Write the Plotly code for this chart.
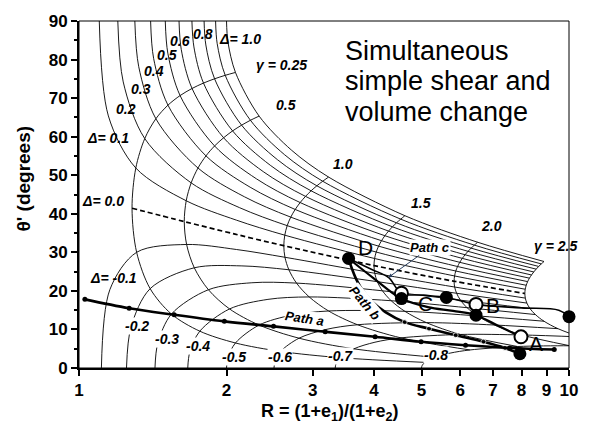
import math
import plotly.graph_objects as go

# ---------------- data ----------------
# volume-change values of the thin curves (columns of the tables below)
DELTAS = [-0.8, -0.7, -0.6, -0.5, -0.4, -0.3, -0.2, -0.1, 0.0,
          0.1, 0.2, 0.3, 0.4, 0.5, 0.6, 0.7, 0.8, 0.9, 1.0]
# shear values at which the curves were sampled (rows)
GAMMAS = [0, 0.1, 0.25, 0.5, 0.75, 1.0, 1.5, 2.0, 2.5]
GAMMA_DRAWN = [0.25, 0.5, 1.0, 1.5, 2.0, 2.5]

R_g000 = [5.0, 3.333, 2.5, 2.0, 1.667, 1.429, 1.25, 1.111, None, 1.1, 1.2, 1.3, 1.4, 1.5, 1.6, 1.7, 1.8, 1.9, 2.0]
T_g000 = [0, 0, 0, 0, 0, 0, 0, 0, None, 90, 90, 90, 90, 90, 90, 90, 90, 90, 90]
R_g010 = [5.013, 3.346, 2.513, 2.014, 1.683, 1.448, 1.277, 1.156, None, 1.148, 1.231, 1.324, 1.420, 1.518, 1.617, 1.716, 1.815, 1.914, 2.014]
T_g010 = [0.59, 1.09, 1.78, 2.73, 4.14, 6.41, 10.65, 20.32, None, 65.38, 74.20, 78.15, 80.31, 81.66, 82.59, 83.27, 83.78, 84.19, 84.52]
R_g025 = [5.080, 3.411, 2.579, 2.086, 1.764, 1.544, 1.397, 1.311, 1.283, 1.306, 1.362, 1.435, 1.519, 1.608, 1.701, 1.795, 1.891, 1.988, 2.086]
T_g025 = [1.46, 2.68, 4.30, 6.49, 9.55, 13.99, 20.58, 30.01, 41.44, 51.87, 59.50, 64.65, 68.17, 70.66, 72.50, 73.90, 75.01, 75.91, 76.66]
R_g050 = [5.321, 3.640, 2.812, 2.331, 2.029, 1.837, 1.719, 1.658, 1.640, 1.655, 1.694, 1.749, 1.816, 1.891, 1.973, 2.058, 2.147, 2.238, 2.331]
T_g050 = [2.78, 4.97, 7.73, 11.14, 15.32, 20.30, 25.99, 32.04, 37.98, 43.38, 48.02, 51.87, 55.02, 57.59, 59.72, 61.49, 62.98, 64.25, 65.34]
R_g075 = [5.720, 4.018, 3.189, 2.717, 2.430, 2.253, 2.150, 2.097, 2.082, 2.095, 2.127, 2.175, 2.235, 2.303, 2.377, 2.457, 2.541, 2.628, 2.717]
T_g075 = [3.86, 6.69, 9.98, 13.71, 17.80, 22.11, 26.48, 30.73, 34.72, 38.35, 41.58, 44.42, 46.89, 49.05, 50.93, 52.58, 54.03, 55.31, 56.46]
R_g100 = [6.276, 4.540, 3.702, 3.231, 2.950, 2.779, 2.681, 2.632, 2.618, 2.630, 2.660, 2.705, 2.762, 2.827, 2.899, 2.976, 3.058, 3.143, 3.231]
T_g100 = [4.68, 7.81, 11.22, 14.79, 18.43, 22.02, 25.48, 28.72, 31.72, 34.45, 36.92, 39.13, 41.12, 42.91, 44.51, 45.96, 47.26, 48.44, 49.52]
R_g150 = [7.853, 6.002, 5.116, 4.625, 4.336, 4.162, 4.063, 4.014, 4.000, 4.011, 4.042, 4.087, 4.144, 4.210, 4.283, 4.362, 4.446, 4.534, 4.625]
T_g150 = [5.57, 8.70, 11.77, 14.70, 17.45, 20.02, 22.39, 24.57, 26.57, 28.40, 30.07, 31.61, 33.02, 34.31, 35.51, 36.62, 37.65, 38.61, 39.50]
R_g200 = [10.04, 8.016, 7.046, 6.509, 6.194, 6.005, 5.897, 5.843, 5.828, 5.841, 5.874, 5.923, 5.985, 6.057, 6.136, 6.222, 6.313, 6.410, 6.509]
T_g200 = [5.77, 8.57, 11.15, 13.50, 15.64, 17.59, 19.38, 21.00, 22.50, 23.87, 25.15, 26.32, 27.41, 28.43, 29.37, 30.26, 31.09, 31.87, 32.62]
R_g250 = [12.84, 10.58, 9.494, 8.892, 8.538, 8.325, 8.204, 8.144, 8.127, 8.141, 8.179, 8.233, 8.303, 8.384, 8.473, 8.570, 8.672, 8.780, 8.892]
T_g250 = [5.61, 8.05, 10.20, 12.13, 13.86, 15.42, 16.84, 18.13, 19.33, 20.43, 21.46, 22.41, 23.30, 24.13, 24.91, 25.64, 26.34, 27.00, 27.62]

# deformation paths
PATH_A_R = [1.028, 1.266, 1.564, 1.98, 2.495, 3.18, 4.02, 4.99, 6.15, 7.57, 9.33]
PATH_A_T = [17.8, 15.5, 13.8, 12.1, 10.8, 9.4, 8.1, 6.8, 5.9, 5.2, 4.8]
PATH_B_R = [3.55, 3.60, 3.68, 3.80, 3.98, 4.22, 4.62, 5.18, 5.87, 6.69, 7.40, 7.94]
PATH_B_T = [28.4, 26.0, 23.0, 20.0, 17.0, 14.5, 11.9, 10.2, 8.5, 6.8, 5.2, 3.7]
PATH_B_DOT = [0, 0, 0, 0, 0, 0, 5, 5, 5, 5, 5, 0]
PATH_C_R = [3.55, 3.95, 4.28, 4.55, 5.05, 5.62, 6.46, 8.0, 9.53, 10.0]
PATH_C_T = [28.4, 25.6, 23.5, 19.4, 18.9, 18.3, 16.5, 15.6, 15.0, 13.3]
PATH_D_R = [3.55, 4.0, 4.55, 5.15, 5.8, 6.46, 7.2, 7.98]
PATH_D_T = [28.4, 23.2, 18.0, 15.8, 14.8, 13.7, 10.8, 8.1]

FILLED_R = [3.55, 4.55, 5.62, 6.46, 10.0, 7.94]
FILLED_T = [28.4, 18.0, 18.3, 13.7, 13.3, 3.7]
OPEN_R = [4.55, 6.46, 7.98]
OPEN_T = [19.4, 16.5, 8.1]

# curve labels
DLAB_TEXT = ["Δ= 1.0", "0.8", "0.6", "0.5", "0.4", "0.3", "0.2", "Δ= 0.1", "Δ= 0.0",
             "Δ= -0.1", "-0.2", "-0.3", "-0.4", "-0.5", "-0.6", "-0.7", "-0.8"]
DLAB_R = [2.135, 1.791, 1.608, 1.512, 1.421, 1.336, 1.250, 1.145, 1.12,
          1.178, 1.315, 1.512, 1.750, 2.073, 2.572, 3.42, 5.34]
DLAB_T = [85.3, 86.7, 84.7, 81.1, 77.0, 72.4, 67.2, 59.6, 43.3,
          23.4, 10.8, 7.4, 5.7, 2.9, 2.8, 3.1, 3.35]
GLAB_TEXT = ["γ = 0.25", "0.5", "1.0", "1.5", "2.0", "γ = 2.5"]
GLAB_R = [2.59, 2.64, 3.45, 4.99, 6.95, 9.4]
GLAB_T = [78.6, 68.3, 52.9, 42.9, 36.9, 31.7]
PT_TEXT = ["D", "C", "B", "A"]
PT_R = [3.84, 5.10, 7.01, 8.55]
PT_T = [31.3, 16.7, 16.2, 6.4]
TITLE_LINES = ["Simultaneous", "simple shear and", "volume change"]
X_TICKS = [1, 2, 3, 4, 5, 6, 7, 8, 9, 10]
Y_TICKS = [0, 10, 20, 30, 40, 50, 60, 70, 80, 90]

# ---------------- figure ----------------
FONT = "Liberation Sans, Arial, sans-serif"
R_rows = [R_g000, R_g010, R_g025, R_g050, R_g075, R_g100, R_g150, R_g200, R_g250]
T_rows = [T_g000, T_g010, T_g025, T_g050, T_g075, T_g100, T_g150, T_g200, T_g250]

fig = go.Figure()
thin = dict(color="black", width=0.9, shape="spline", smoothing=0.9)

for j, dv in enumerate(DELTAS):
    xs = [row[j] for row in R_rows]
    ys = [row[j] for row in T_rows]
    if dv == 0.0:
        ln = dict(color="black", width=1.7, dash="5px,3px", shape="spline", smoothing=0.9)
    else:
        ln = thin
    fig.add_trace(go.Scatter(x=xs, y=ys, mode="lines", line=ln,
                             hoverinfo="skip", showlegend=False))

for g in GAMMA_DRAWN:
    i = GAMMAS.index(g)
    fig.add_trace(go.Scatter(x=R_rows[i], y=T_rows[i], mode="lines", line=thin,
                             hoverinfo="skip", showlegend=False))

# paths
fig.add_trace(go.Scatter(x=PATH_D_R, y=PATH_D_T, mode="lines",
                         line=dict(color="black", width=2.2, shape="spline"),
                         showlegend=False))
fig.add_trace(go.Scatter(x=PATH_C_R, y=PATH_C_T, mode="lines",
                         line=dict(color="black", width=1.6, shape="spline"),
                         showlegend=False))
fig.add_trace(go.Scatter(x=PATH_B_R, y=PATH_B_T, mode="lines+markers",
                         line=dict(color="black", width=2.6, shape="spline"),
                         marker=dict(size=PATH_B_DOT, color="black"),
                         showlegend=False))
fig.add_trace(go.Scatter(x=PATH_A_R, y=PATH_A_T, mode="lines+markers",
                         line=dict(color="black", width=2.6, shape="spline"),
                         marker=dict(size=5, color="black"),
                         showlegend=False, cliponaxis=False))

# measured points
fig.add_trace(go.Scatter(x=OPEN_R, y=OPEN_T, mode="markers",
                         marker=dict(size=13, color="white",
                                     line=dict(color="black", width=2)),
                         showlegend=False, cliponaxis=False))
fig.add_trace(go.Scatter(x=FILLED_R, y=FILLED_T, mode="markers",
                         marker=dict(size=13, color="black"),
                         showlegend=False, cliponaxis=False))

ann = []
lab_font = dict(family=FONT, size=14, color="black", weight="bold", style="italic")
for t, r, th in zip(DLAB_TEXT, DLAB_R, DLAB_T):
    neg = t.startswith("-")
    ann.append(dict(x=math.log10(r), y=th, text=t, showarrow=False, font=lab_font,
                    bgcolor="white" if neg else "rgba(0,0,0,0)", borderpad=0))
for t, r, th in zip(GLAB_TEXT, GLAB_R, GLAB_T):
    ann.append(dict(x=math.log10(r), y=th, text=t, showarrow=False, font=lab_font))
for t, r, th in zip(PT_TEXT, PT_R, PT_T):
    ann.append(dict(x=math.log10(r), y=th, text=t, showarrow=False,
                    font=dict(family=FONT, size=21, color="black")))

path_font = dict(family=FONT, size=13, color="black", weight="bold", style="italic")
ann.append(dict(x=math.log10(2.885), y=12.8, text="Path a", showarrow=False,
                font=path_font, textangle=9, bgcolor="white", borderpad=0))
ann.append(dict(x=math.log10(3.84), y=16.8, text="Path b", showarrow=False,
                font=path_font, textangle=50, bgcolor="white", borderpad=0))
ann.append(dict(x=math.log10(4.28), y=23.5, text="Path c", showarrow=True,
                arrowhead=2, arrowsize=0.8, arrowwidth=1, ax=42, ay=-30,
                font=path_font, bgcolor="white", borderpad=0))

# title block, one line each
for k, (line_txt, yp) in enumerate(zip(TITLE_LINES, [0.914, 0.826, 0.738])):
    ann.append(dict(xref="paper", yref="paper", x=0.539, y=yp, xanchor="left",
                    yanchor="middle", align="left", showarrow=False, text=line_txt,
                    font=dict(family=FONT, size=27, color="black")))
# axis titles
ann.append(dict(xref="paper", yref="paper", x=0.512, y=-0.128, xanchor="center",
                yanchor="middle", showarrow=False,
                text="R = (1+e<sub>1</sub>)/(1+e<sub>2</sub>)",
                font=dict(family=FONT, size=18, color="black", weight="bold")))
ann.append(dict(xref="paper", yref="paper", x=-0.113, y=0.545, xanchor="center",
                yanchor="middle", showarrow=False,
                textangle=-90, text="θ' (degrees)",
                font=dict(family=FONT, size=19, color="black", weight="bold")))

tick_font = dict(family=FONT, size=17, color="black", weight="bold")
fig.update_layout(
    width=590, height=427, autosize=False,
    margin=dict(l=79, r=13, t=19, b=59),
    paper_bgcolor="white", plot_bgcolor="white",
    showlegend=False, annotations=ann,
    xaxis=dict(type="log", range=[0, 1], tickvals=X_TICKS,
               ticktext=[str(v) for v in X_TICKS], ticks="outside", ticklen=6,
               tickwidth=1.5, tickcolor="black", showgrid=False, zeroline=False,
               showline=True, linewidth=2, linecolor="black", tickfont=tick_font),
    yaxis=dict(range=[0, 90], tickvals=Y_TICKS, ticks="outside", ticklen=6,
               tickwidth=1.5, tickcolor="black", showgrid=False, zeroline=False,
               showline=True, linewidth=2, linecolor="black", tickfont=tick_font,
               minor=dict(ticks="outside", dtick=5, ticklen=3, tickcolor="black",
                          showgrid=False)),
    shapes=[dict(type="rect", xref="paper", yref="paper", x0=0, x1=1, y0=0, y1=1,
                 line=dict(color="black", width=1))],
)

fig.write_html("out.html")
